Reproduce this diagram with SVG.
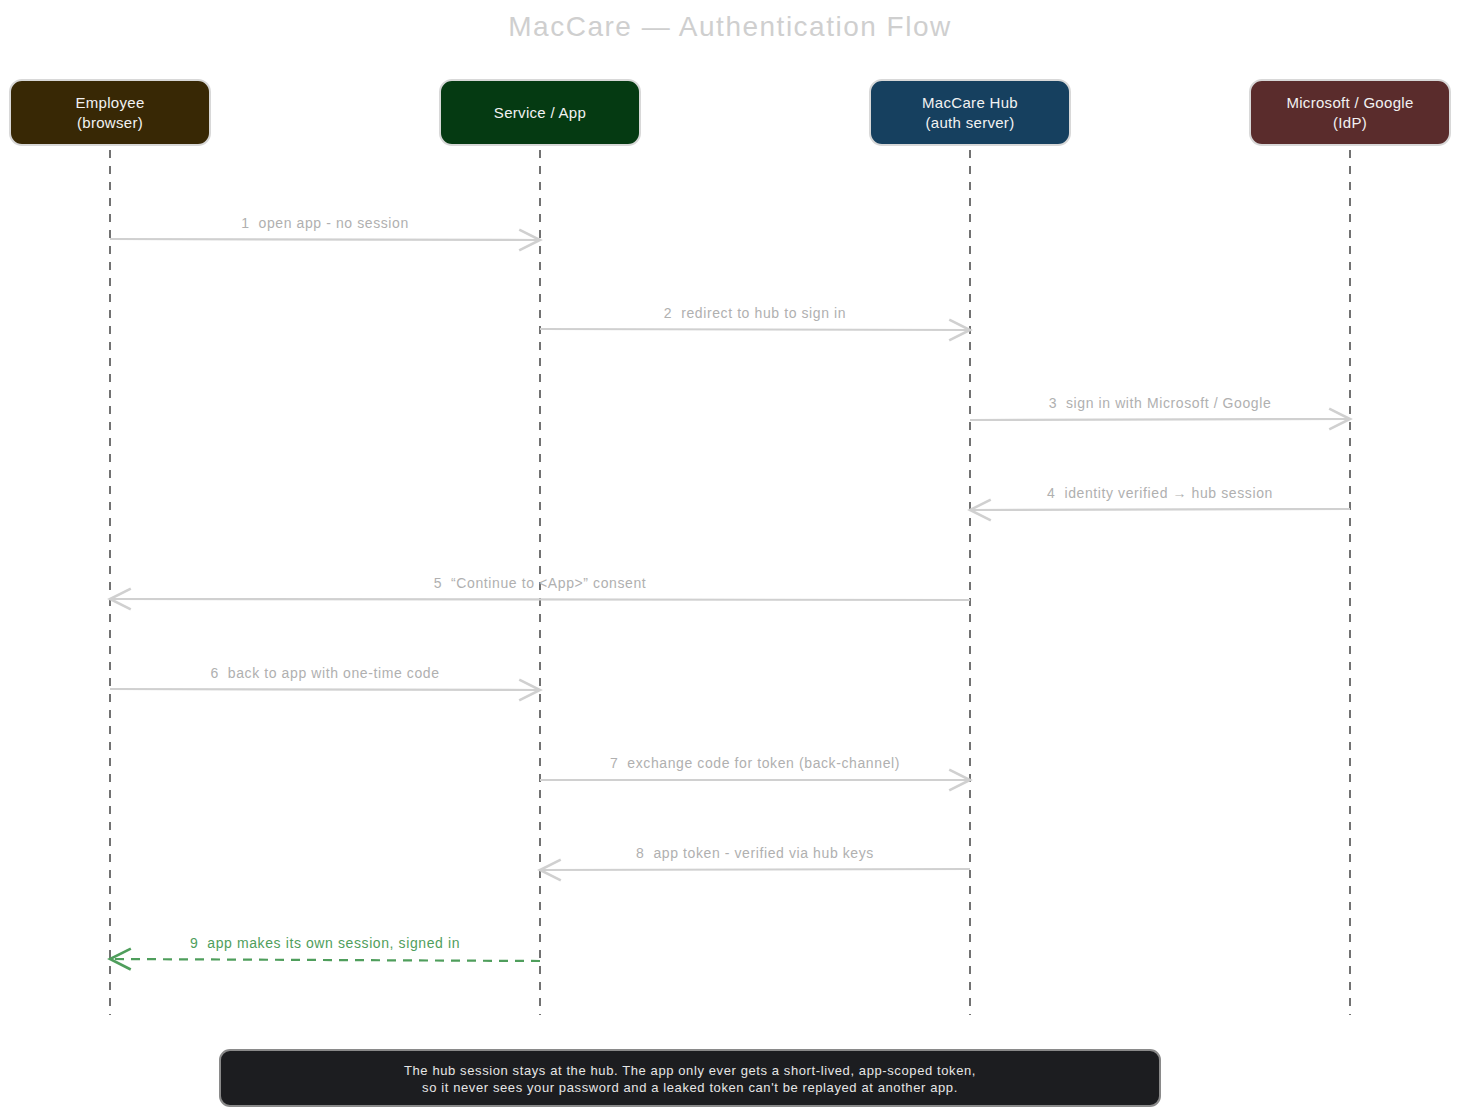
<svg xmlns="http://www.w3.org/2000/svg" width="1460" height="1116" viewBox="0 0 1460 1116">
<defs>
<style>
.hdr{stroke:#d8d8d8;stroke-width:2}
.ht{fill:#f2f2f2;font-family:"Liberation Sans",Arial,sans-serif;font-size:15px;text-anchor:middle;letter-spacing:0.3px}
.life{stroke:#444;stroke-width:1.5;stroke-dasharray:8 8;fill:none}
.msg{stroke:#d0d0d0;stroke-width:2.2;fill:none}
.lbl{fill:#b0b0b0;font-family:"Liberation Sans",Arial,sans-serif;font-size:14px;text-anchor:middle;letter-spacing:0.6px;white-space:pre}
.ok{stroke:#4f9e5c;stroke-width:2.2;fill:none;stroke-dasharray:9 7}
.okl{fill:#4f9e5c;font-family:"Liberation Sans",Arial,sans-serif;font-size:14px;text-anchor:middle;letter-spacing:0.6px;white-space:pre}
.nt{fill:#e6e6e6;font-family:"Liberation Sans",Arial,sans-serif;font-size:13px;text-anchor:middle;letter-spacing:0.6px}
</style>
<marker id="ah" viewBox="0 0 20 20" refX="18" refY="10" markerWidth="26" markerHeight="26" markerUnits="userSpaceOnUse" orient="auto-start-reverse">
<path d="M2 2 L18 10 L2 18" fill="none" stroke="#d0d0d0" stroke-width="2"/>
</marker>
<marker id="ahg" viewBox="0 0 20 20" refX="18" refY="10" markerWidth="26" markerHeight="26" markerUnits="userSpaceOnUse" orient="auto-start-reverse">
<path d="M2 2 L18 10 L2 18" fill="none" stroke="#4f9e5c" stroke-width="2"/>
</marker>
</defs>
<rect width="1460" height="1116" fill="#ffffff"/>
<text x="730" y="36" fill="#cfcfcf" font-family="Liberation Sans,Arial,sans-serif" font-size="28" letter-spacing="1.5" text-anchor="middle">MacCare — Authentication Flow</text>

<g id="lifelines">
<line class="life" x1="110" y1="150" x2="110" y2="1015"/>
<line class="life" x1="540" y1="150" x2="540" y2="1015"/>
<line class="life" x1="970" y1="150" x2="970" y2="1015"/>
<line class="life" x1="1350" y1="150" x2="1350" y2="1015"/>
</g>

<g id="employee">
<rect class="hdr" x="10" y="80" width="200" height="65" rx="12" fill="#382805"/>
<text class="ht" x="110" y="108">Employee</text>
<text class="ht" x="110" y="128">(browser)</text>
</g>
<g id="service">
<rect class="hdr" x="440" y="80" width="200" height="65" rx="12" fill="#053a12"/>
<text class="ht" x="540" y="118">Service / App</text>
</g>
<g id="hub">
<rect class="hdr" x="870" y="80" width="200" height="65" rx="12" fill="#16405f"/>
<text class="ht" x="970" y="108">MacCare Hub</text>
<text class="ht" x="970" y="128">(auth server)</text>
</g>
<g id="idp">
<rect class="hdr" x="1250" y="80" width="200" height="65" rx="12" fill="#5a2c2c"/>
<text class="ht" x="1350" y="108">Microsoft / Google</text>
<text class="ht" x="1350" y="128">(IdP)</text>
</g>

<g id="connectors">
<line class="msg" x1="110" y1="239" x2="540" y2="240" marker-end="url(#ah)"/>
<text class="lbl" x="325" y="228" xml:space="preserve">1  open app - no session</text>
<line class="msg" x1="540" y1="329" x2="970" y2="330" marker-end="url(#ah)"/>
<text class="lbl" x="755" y="318" xml:space="preserve">2  redirect to hub to sign in</text>
<line class="msg" x1="970" y1="420" x2="1350" y2="419" marker-end="url(#ah)"/>
<text class="lbl" x="1160" y="408" xml:space="preserve">3  sign in with Microsoft / Google</text>
<line class="msg" x1="1350" y1="509" x2="970" y2="510" marker-end="url(#ah)"/>
<text class="lbl" x="1160" y="498" xml:space="preserve">4  identity verified → hub session</text>
<line class="msg" x1="970" y1="600" x2="110" y2="599" marker-end="url(#ah)"/>
<text class="lbl" x="540" y="588" xml:space="preserve">5  “Continue to &lt;App&gt;” consent</text>
<line class="msg" x1="110" y1="689" x2="540" y2="690" marker-end="url(#ah)"/>
<text class="lbl" x="325" y="678" xml:space="preserve">6  back to app with one-time code</text>
<line class="msg" x1="540" y1="780" x2="970" y2="780" marker-end="url(#ah)"/>
<text class="lbl" x="755" y="768" xml:space="preserve">7  exchange code for token (back-channel)</text>
<line class="msg" x1="970" y1="869" x2="540" y2="870" marker-end="url(#ah)"/>
<text class="lbl" x="755" y="858" xml:space="preserve">8  app token - verified via hub keys</text>
<line class="ok" x1="540" y1="961" x2="110" y2="959" marker-end="url(#ahg)"/>
<text class="okl" x="325" y="948" xml:space="preserve">9  app makes its own session, signed in</text>
</g>

<g id="note">
<rect x="220" y="1050" width="940" height="56" rx="10" fill="#1c1d20" stroke="#8a8a8a" stroke-width="2"/>
<text class="nt" x="690" y="1075">The hub session stays at the hub. The app only ever gets a short-lived, app-scoped token,</text>
<text class="nt" x="690" y="1092">so it never sees your password and a leaked token can't be replayed at another app.</text>
</g>
</svg>
